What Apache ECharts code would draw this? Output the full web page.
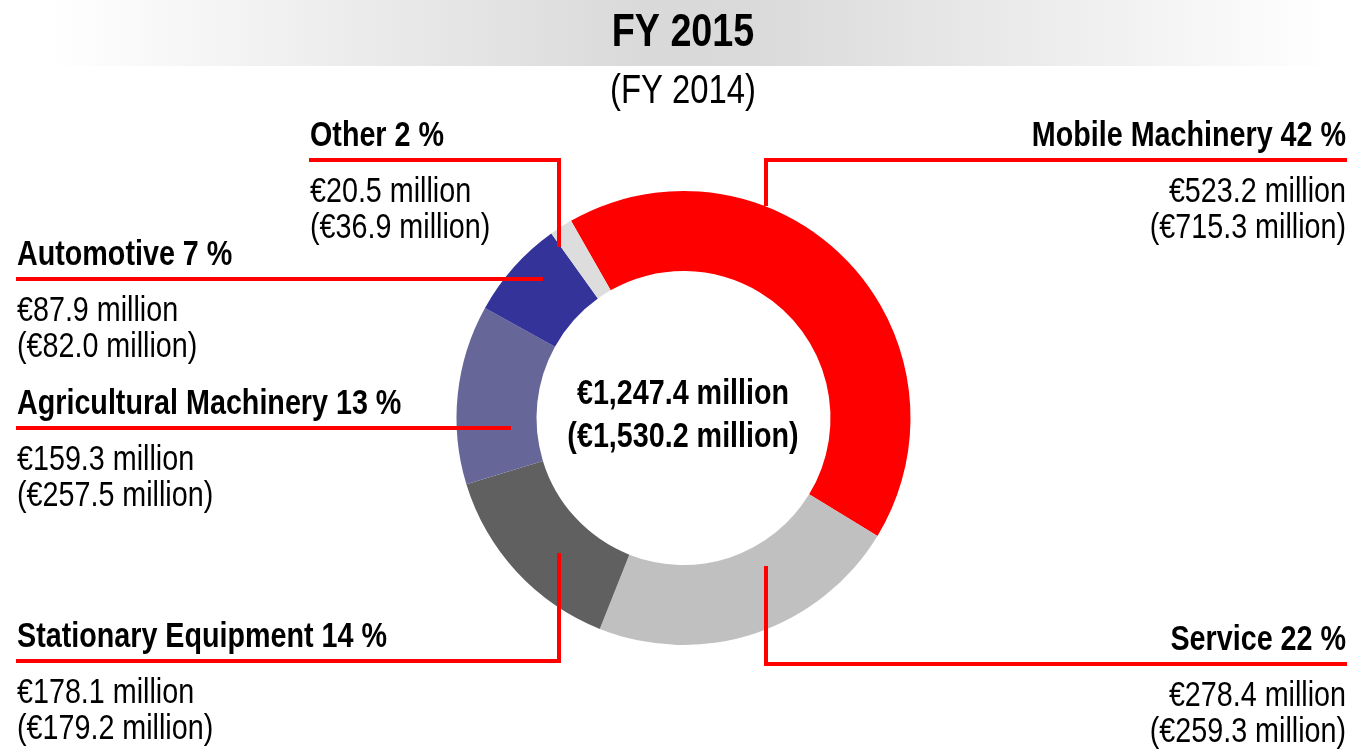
<!DOCTYPE html>
<html>
<head>
<meta charset="utf-8">
<script src="https://cdn.jsdelivr.net/npm/echarts@6/dist/echarts.min.js"></script>
<style>
  html, body { margin: 0; padding: 0; background: #fff; }
  #mychart { width: 1354px; height: 750px; }
</style>
</head>
<body>
<div id="mychart"></div>
<script>
// data (FY 2015, FY 2014 in brackets)
var segments = ['Mobile Machinery', 'Service', 'Stationary Equipment', 'Agricultural Machinery', 'Automotive', 'Other']
var values2015 = [523.2, 278.4, 178.1, 159.3, 87.9, 20.5]
var values2014 = [715.3, 259.3, 179.2, 257.5, 82.0, 36.9]
var percents = [42, 22, 14, 13, 7, 2]
var colors = ['#ff0000', '#c0c0c0', '#606060', '#666699', '#333399', '#dddddd']
var total2015 = '1,247.4'
var total2014 = '1,530.2'

// no narrow font installed, so squeeze Liberation Sans horizontally
var FONT = '"Liberation Sans", Arial, sans-serif'
var NARROW = 0.82

// where each label + its red leader line sits
var labelPos = [
  { x: 1346, lineY: 160, align: 'right', line: [[766, 206], [766, 160], [1347, 160]] },
  { x: 1346, lineY: 664, align: 'right', line: [[766, 566], [766, 664], [1347, 664]] },
  { x: 17, lineY: 661, align: 'left', line: [[559, 553], [559, 661], [16, 661]] },
  { x: 17, lineY: 428, align: 'left', line: [[511, 428], [16, 428]] },
  { x: 17, lineY: 279, align: 'left', line: [[543, 279], [16, 279]] },
  { x: 310, lineY: 160, align: 'left', line: [[559, 247], [559, 160], [309, 160]] }
]

function fmt(v) {
  return v.toFixed(1)
}

function txt(s, x, y, font, align) {
  return {
    type: 'text',
    x: x, y: y,
    scaleX: NARROW,
    z: 20,
    style: { text: s, font: font + ' ' + FONT, fill: '#000', align: align, verticalAlign: 'middle' }
  }
}

var graphics = [
  {
    type: 'rect',
    z: -1,
    shape: { x: 0, y: 0, width: 1354, height: 66 },
    style: {
      fill: new echarts.graphic.LinearGradient(0, 0, 1, 0, [
        { offset: 0.035, color: '#ffffff' },
        { offset: 0.48, color: '#d9d9d9' },
        { offset: 0.56, color: '#dadada' },
        { offset: 0.985, color: '#ffffff' }
      ])
    }
  },
  txt('FY 2015', 683, 33, 'bold 46px', 'center'),
  txt('(FY 2014)', 683, 92, '40px', 'center'),
  txt('€' + total2015 + ' million', 683, 394, 'bold 35px', 'center'),
  txt('(€' + total2014 + ' million)', 683, 437, 'bold 35px', 'center')
]

// labels and leader lines for each segment
segments.forEach(function(name, i) {
  var p = labelPos[i]
  graphics.push(txt(name + ' ' + percents[i] + ' %', p.x, p.lineY - 24, 'bold 35px', p.align))
  graphics.push(txt('€' + fmt(values2015[i]) + ' million', p.x, p.lineY + 32, '35px', p.align))
  graphics.push(txt('(€' + fmt(values2014[i]) + ' million)', p.x, p.lineY + 68, '35px', p.align))
  graphics.push({
    type: 'polyline',
    z: 30,
    shape: { points: p.line },
    style: { stroke: '#ff0000', lineWidth: 4, fill: null }
  })
})

var pieData = segments.map(function(name, i) {
  return { name: name, value: values2015[i], itemStyle: { color: colors[i] } }
})

var myChart = echarts.init(document.getElementById('mychart'))
var option = {
  animation: false,
  backgroundColor: '#fff',
  graphic: graphics,
  series: [
    {
      type: 'pie',
      z: 2,
      center: [683.5, 418],
      radius: [147, 227],
      startAngle: 119.7,
      clockwise: true,
      emphasis: { disabled: true },
      label: { show: false },
      labelLine: { show: false },
      data: pieData
    }
  ]
}
myChart.setOption(option)
</script>
</body>
</html>
